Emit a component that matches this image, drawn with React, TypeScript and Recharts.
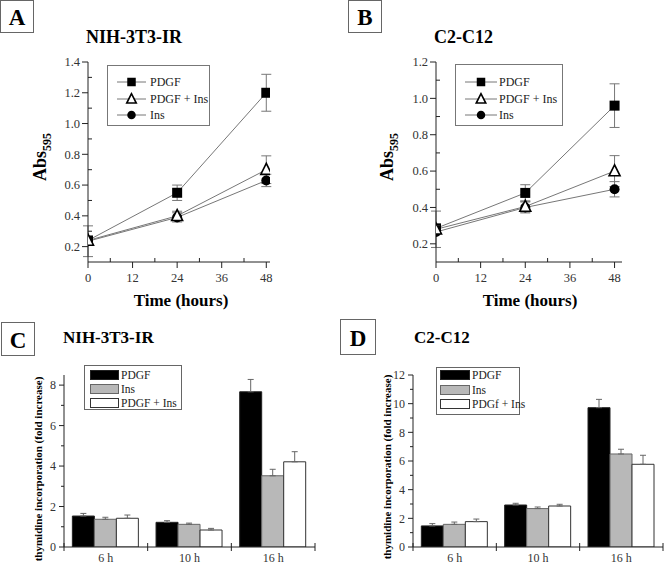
import React from 'react';
import { LineChart, Line, XAxis, YAxis, ErrorBar, BarChart, Bar } from 'recharts';

const FONT = "'Liberation Serif', 'Times New Roman', 'DejaVu Serif', serif";
const TXT = { fontFamily: FONT } as const;

// ---- Panels A / B: growth (Abs595) ----
const hours = [0, 24, 48];
const nihPDGF = [0.24, 0.55, 1.2];
const nihPDGFErr = [0, 0.05, 0.12];
const nihPDGFIns = [0.24, 0.4, 0.7];
const nihPDGFInsErr = [0, 0.03, 0.09];
const nihIns = [0.235, 0.39, 0.63];
const nihInsErr = [0.1, 0.03, 0.04];

const c2PDGF = [0.285, 0.48, 0.96];
const c2PDGFErr = [0, 0.045, 0.12];
const c2PDGFIns = [0.28, 0.405, 0.6];
const c2PDGFInsErr = [0.1, 0.03, 0.085];
const c2Ins = [0.265, 0.4, 0.5];
const c2InsErr = [0, 0.03, 0.042];

const timeTicks = [0, 6, 12, 18, 24, 30, 36, 42, 48];
const timeMajor = [0, 12, 24, 36, 48];
const absTicksA = [0.2, 0.3, 0.4, 0.5, 0.6, 0.7, 0.8, 0.9, 1.0, 1.1, 1.2, 1.3, 1.4];
const absMajorA = [0.2, 0.4, 0.6, 0.8, 1.0, 1.2, 1.4];
const absTicksB = [0.2, 0.3, 0.4, 0.5, 0.6, 0.7, 0.8, 0.9, 1.0, 1.1, 1.2];
const absMajorB = [0.2, 0.4, 0.6, 0.8, 1.0, 1.2];
const lineLegend = ['PDGF', 'PDGF + Ins', 'Ins'];

// ---- Panels C / D: thymidine incorporation ----
const periods = ['6 h', '10 h', '16 h'];
const thyNihPDGF = [1.53, 1.22, 7.67];
const thyNihPDGFErr = [0.13, 0.08, 0.61];
const thyNihIns = [1.37, 1.12, 3.52];
const thyNihInsErr = [0.1, 0.06, 0.32];
const thyNihPDGFIns = [1.42, 0.84, 4.21];
const thyNihPDGFInsErr = [0.16, 0.08, 0.5];

const thyC2PDGF = [1.47, 2.93, 9.72];
const thyC2PDGFErr = [0.16, 0.12, 0.58];
const thyC2Ins = [1.58, 2.68, 6.49];
const thyC2InsErr = [0.16, 0.11, 0.33];
const thyC2PDGFIns = [1.77, 2.86, 5.77];
const thyC2PDGFInsErr = [0.18, 0.12, 0.63];

const foldTicksC = [0, 1, 2, 3, 4, 5, 6, 7, 8];
const foldMajorC = [0, 2, 4, 6, 8];
const foldTicksD = [0, 1, 2, 3, 4, 5, 6, 7, 8, 9, 10, 11, 12];
const foldMajorD = [0, 2, 4, 6, 8, 10, 12];
const barLegendC = ['PDGF', 'Ins', 'PDGF + Ins'];
const barLegendD = ['PDGF', 'Ins', 'PDGf + Ins'];

const lineDataA = hours.map((t, i) => ({
  t,
  pdgf: nihPDGF[i], pdgfErr: nihPDGFErr[i],
  pdgfIns: nihPDGFIns[i], pdgfInsErr: nihPDGFInsErr[i],
  ins: nihIns[i], insErr: nihInsErr[i],
}));
const lineDataB = hours.map((t, i) => ({
  t,
  pdgf: c2PDGF[i], pdgfErr: c2PDGFErr[i],
  pdgfIns: c2PDGFIns[i], pdgfInsErr: c2PDGFInsErr[i],
  ins: c2Ins[i], insErr: c2InsErr[i],
}));
const barDataC = periods.map((p, i) => ({
  p,
  pdgf: thyNihPDGF[i], pdgfErr: [0, thyNihPDGFErr[i]],
  ins: thyNihIns[i], insErr: [0, thyNihInsErr[i]],
  pdgfIns: thyNihPDGFIns[i], pdgfInsErr: [0, thyNihPDGFInsErr[i]],
}));
const barDataD = periods.map((p, i) => ({
  p,
  pdgf: thyC2PDGF[i], pdgfErr: [0, thyC2PDGFErr[i]],
  ins: thyC2Ins[i], insErr: [0, thyC2InsErr[i]],
  pdgfIns: thyC2PDGFIns[i], pdgfInsErr: [0, thyC2PDGFInsErr[i]],
}));

const isIn = (list: number[], v: number) => list.some((m) => Math.abs(m - v) < 1e-6);

function Marker({ shape, cx, cy, size }: any) {
  const h = size / 2;
  if (shape === 'square') {
    return <rect x={cx - h} y={cy - h} width={size} height={size} fill="#000" />;
  }
  if (shape === 'circle') {
    return <circle cx={cx} cy={cy} r={h} fill="#000" />;
  }
  const th = size * 1.05;
  return (
    <polygon
      points={`${cx},${cy - th * 0.6} ${cx - h - 0.5},${cy + th * 0.45} ${cx + h + 0.5},${cy + th * 0.45}`}
      fill="#fff"
      stroke="#000"
      strokeWidth={1.6}
      strokeLinejoin="miter"
    />
  );
}

const renderDot = (shape: string) => (props: any) => {
  const { cx, cy, index } = props;
  if (cx == null || cy == null) return <g key={`${shape}-${index}`} />;
  return <Marker key={`${shape}-${index}`} shape={shape} cx={cx} cy={cy} size={10} />;
};

const makeLineYTick = (major: number[]) => (props: any) => {
  const { x, y, payload } = props;
  const v = payload.value;
  if (isIn(major, v)) {
    return (
      <g>
        <line x1={x - 6} x2={x} y1={y} y2={y} stroke="#222" />
        <text x={x - 8} y={y} dy="0.35em" textAnchor="end" fontSize={12.5} fill="#333" style={TXT}>
          {v.toFixed(1)}
        </text>
      </g>
    );
  }
  return <line x1={x} x2={x + 4} y1={y} y2={y} stroke="#222" />;
};

const LineXTick = (props: any) => {
  const { x, y, payload } = props;
  const v = payload.value;
  if (isIn(timeMajor, v)) {
    return (
      <g>
        <line x1={x} x2={x} y1={y} y2={y + 6} stroke="#222" />
        <text x={x} y={y + 16} dy="0.35em" textAnchor="middle" fontSize={12.5} fill="#333" style={TXT}>
          {v}
        </text>
      </g>
    );
  }
  return <line x1={x} x2={x} y1={y - 4} y2={y} stroke="#222" />;
};

const makeBarYTick = (major: number[]) => (props: any) => {
  const { x, y, payload } = props;
  const v = payload.value;
  if (isIn(major, v)) {
    return (
      <g>
        <line x1={x - 5} x2={x} y1={y} y2={y} stroke="#222" />
        <text x={x - 8} y={y} dy="0.35em" textAnchor="end" fontSize={12} fill="#333" style={TXT}>
          {v}
        </text>
      </g>
    );
  }
  return <line x1={x - 3} x2={x} y1={y} y2={y} stroke="#222" />;
};

const makeBarXTick = (band: number) => (props: any) => {
  const { x, y, payload, index, visibleTicksCount } = props;
  return (
    <g>
      <line x1={x - band / 2} x2={x - band / 2} y1={y - 4} y2={y + 4} stroke="#222" />
      {index === visibleTicksCount - 1 ? (
        <line x1={x + band / 2} x2={x + band / 2} y1={y - 4} y2={y + 4} stroke="#222" />
      ) : null}
      <text x={x} y={y + 11} dy="0.35em" textAnchor="middle" fontSize={12} fill="#333" style={TXT}>
        {payload.value}
      </text>
    </g>
  );
};

function GrowthPanel({ left, data, xMax, yDomain, yTicks, yMajor, marginLeft, marginRight }: any) {
  return (
    <div style={{ position: 'absolute', left, top: 0 }}>
      <LineChart
        width={332}
        height={310}
        data={data}
        margin={{ top: 62, right: marginRight, bottom: 18, left: marginLeft }}
      >
        <XAxis
          type="number"
          dataKey="t"
          domain={[0, xMax]}
          ticks={timeTicks}
          interval={0}
          tickSize={0}
          tickMargin={0}
          tickLine={false}
          axisLine={{ stroke: '#222' }}
          tick={LineXTick}
          height={30}
          allowDataOverflow
        />
        <YAxis
          type="number"
          domain={yDomain}
          ticks={yTicks}
          interval={0}
          tickSize={0}
          tickMargin={0}
          tickLine={false}
          axisLine={{ stroke: '#222' }}
          tick={makeLineYTick(yMajor)}
          width={40}
          allowDataOverflow
        />
        <Line dataKey="ins" stroke="#777" strokeWidth={1} dot={renderDot('circle')} activeDot={false} isAnimationActive={false}>
          <ErrorBar dataKey="insErr" direction="y" width={5} stroke="#777" strokeWidth={1} />
        </Line>
        <Line dataKey="pdgf" stroke="#777" strokeWidth={1} dot={renderDot('square')} activeDot={false} isAnimationActive={false}>
          <ErrorBar dataKey="pdgfErr" direction="y" width={5} stroke="#777" strokeWidth={1} />
        </Line>
        <Line dataKey="pdgfIns" stroke="#777" strokeWidth={1} dot={renderDot('triangle')} activeDot={false} isAnimationActive={false}>
          <ErrorBar dataKey="pdgfInsErr" direction="y" width={5} stroke="#777" strokeWidth={1} />
        </Line>
      </LineChart>
    </div>
  );
}

function ThymidinePanel({ left, data, yDomain, yTicks, yMajor, marginLeft, marginRight, band }: any) {
  return (
    <div style={{ position: 'absolute', left, top: 310 }}>
      <BarChart
        width={332}
        height={264}
        data={data}
        margin={{ top: 65, right: marginRight, bottom: 7, left: marginLeft }}
        barCategoryGap="10%"
        barGap={0}
      >
        <XAxis
          dataKey="p"
          interval={0}
          tickSize={0}
          tickMargin={0}
          tickLine={false}
          axisLine={{ stroke: '#222' }}
          tick={makeBarXTick(band)}
          height={20}
        />
        <YAxis
          type="number"
          domain={yDomain}
          ticks={yTicks}
          interval={0}
          tickSize={0}
          tickMargin={0}
          tickLine={false}
          axisLine={{ stroke: '#222' }}
          tick={makeBarYTick(yMajor)}
          width={40}
          allowDataOverflow
        />
        <Bar dataKey="pdgf" fill="#000" stroke="#222" strokeWidth={1} isAnimationActive={false}>
          <ErrorBar dataKey="pdgfErr" direction="y" width={3} stroke="#666" strokeWidth={1} />
        </Bar>
        <Bar dataKey="ins" fill="#b8b8b8" stroke="#666" strokeWidth={1} isAnimationActive={false}>
          <ErrorBar dataKey="insErr" direction="y" width={3} stroke="#666" strokeWidth={1} />
        </Bar>
        <Bar dataKey="pdgfIns" fill="#fff" stroke="#333" strokeWidth={1} isAnimationActive={false}>
          <ErrorBar dataKey="pdgfInsErr" direction="y" width={3} stroke="#666" strokeWidth={1} />
        </Bar>
      </BarChart>
    </div>
  );
}

function PanelLabel({ x, y, w, h, label }: any) {
  return (
    <g>
      <rect x={x + 0.5} y={y + 0.5} width={w} height={h} fill="#fff" stroke="#666" strokeWidth={1} />
      <text x={x + w / 2 + 0.5} y={y + h / 2 + 1} dy="0.35em" textAnchor="middle" fontSize={23} fontWeight="bold" style={TXT} fill="#000">
        {label}
      </text>
    </g>
  );
}

function LineLegendBox({ x, y, w, h, rows, lx1, lx2, tx }: any) {
  const shapes = ['square', 'triangle', 'circle'];
  return (
    <g>
      <rect x={x + 0.5} y={y + 0.5} width={w} height={h} fill="#fff" stroke="#777" strokeWidth={1} />
      {lineLegend.map((name, i) => (
        <g key={name}>
          <line x1={lx1} x2={lx2} y1={rows[i]} y2={rows[i]} stroke="#777" strokeWidth={1} />
          <Marker shape={shapes[i]} cx={(lx1 + lx2) / 2} cy={rows[i]} size={8.5} />
          <text x={tx} y={rows[i]} dy="0.35em" fontSize={12} style={TXT} fill="#222">
            {name}
          </text>
        </g>
      ))}
    </g>
  );
}

function BarLegendBox({ x, y, w, h, rows, sx, sw, tx, names }: any) {
  const fills = ['#000', '#b8b8b8', '#fff'];
  const strokes = ['#222', '#666', '#333'];
  return (
    <g>
      <rect x={x + 0.5} y={y + 0.5} width={w} height={h} fill="#fff" stroke="#666" strokeWidth={1} />
      {names.map((name: string, i: number) => (
        <g key={name}>
          <rect x={sx + 0.5} y={rows[i] - 4.5} width={sw} height={9} fill={fills[i]} stroke={strokes[i]} strokeWidth={1} />
          <text x={tx} y={rows[i]} dy="0.35em" fontSize={11.5} style={TXT} fill="#222">
            {name}
          </text>
        </g>
      ))}
    </g>
  );
}

function Overlay() {
  return (
    <svg width={664} height={574} style={{ position: 'absolute', left: 0, top: 0, pointerEvents: 'none', fontFamily: FONT }}>
      <PanelLabel x={0} y={0} w={33} h={32} label="A" />
      <PanelLabel x={348} y={0} w={33} h={32} label="B" />
      <PanelLabel x={1} y={322} w={33} h={33} label="C" />
      <PanelLabel x={340} y={319} w={35} h={35} label="D" />

      <text x={86} y={37} dy="0.35em" fontSize={18} fontWeight="bold" style={TXT}>NIH-3T3-IR</text>
      <text x={434} y={37} dy="0.35em" fontSize={18} fontWeight="bold" style={TXT}>C2-C12</text>
      <text x={63} y={337} dy="0.35em" fontSize={17} fontWeight="bold" style={TXT}>NIH-3T3-IR</text>
      <text x={414} y={337} dy="0.35em" fontSize={17} fontWeight="bold" style={TXT}>C2-C12</text>

      <text x={181} y={300} dy="0.35em" textAnchor="middle" fontSize={17} fontWeight="bold" style={TXT}>Time (hours)</text>
      <text x={530} y={300} dy="0.35em" textAnchor="middle" fontSize={17} fontWeight="bold" style={TXT}>Time (hours)</text>

      <text transform="translate(40,157) rotate(-90)" textAnchor="middle" dy="0.35em" fontSize={18} fontWeight="bold" style={TXT}>
        Abs<tspan fontSize={12} dy={5}>595</tspan>
      </text>
      <text transform="translate(387,157) rotate(-90)" textAnchor="middle" dy="0.35em" fontSize={18} fontWeight="bold" style={TXT}>
        Abs<tspan fontSize={12} dy={5}>595</tspan>
      </text>

      <text transform="translate(38,469) rotate(-90)" textAnchor="middle" dy="0.35em" fontSize={11} fontWeight="bold" style={TXT}>
        thymidine incorporation (fold increase)
      </text>
      <text transform="translate(387,467) rotate(-90)" textAnchor="middle" dy="0.35em" fontSize={11} fontWeight="bold" style={TXT}>
        thymidine incorporation (fold increase)
      </text>

      <LineLegendBox x={107} y={65} w={102} h={60} rows={[82, 99, 115]} lx1={117} lx2={146} tx={150} />
      <LineLegendBox x={455} y={64} w={107} h={61} rows={[82, 99, 115]} lx1={465} lx2={497} tx={499} />

      <BarLegendBox x={84} y={365} w={97} h={44} rows={[375, 389, 403]} sx={90} sw={28} tx={121} names={barLegendC} />
      <BarLegendBox x={436} y={367} w={83} h={47} rows={[375, 390, 404]} sx={440} sw={29} tx={472} names={barLegendD} />
    </svg>
  );
}

export default function App() {
  return (
    <div style={{ position: 'absolute', left: 0, top: 0, width: 664, height: 574, background: '#fff', fontFamily: FONT }}>
      <GrowthPanel left={0} data={lineDataA} xMax={49} yDomain={[0.1, 1.4]} yTicks={absTicksA} yMajor={absMajorA} marginLeft={48} marginRight={62} />
      <GrowthPanel left={332} data={lineDataB} xMax={50} yDomain={[0.1, 1.2]} yTicks={absTicksB} yMajor={absMajorB} marginLeft={64} marginRight={42} />
      <ThymidinePanel left={0} data={barDataC} yDomain={[0, 8.5]} yTicks={foldTicksC} yMajor={foldMajorC} marginLeft={24} marginRight={17} band={251 / 3} />
      <ThymidinePanel left={332} data={barDataD} yDomain={[0, 12]} yTicks={foldTicksD} yMajor={foldMajorD} marginLeft={41} marginRight={1} band={250 / 3} />
      <Overlay />
    </div>
  );
}
